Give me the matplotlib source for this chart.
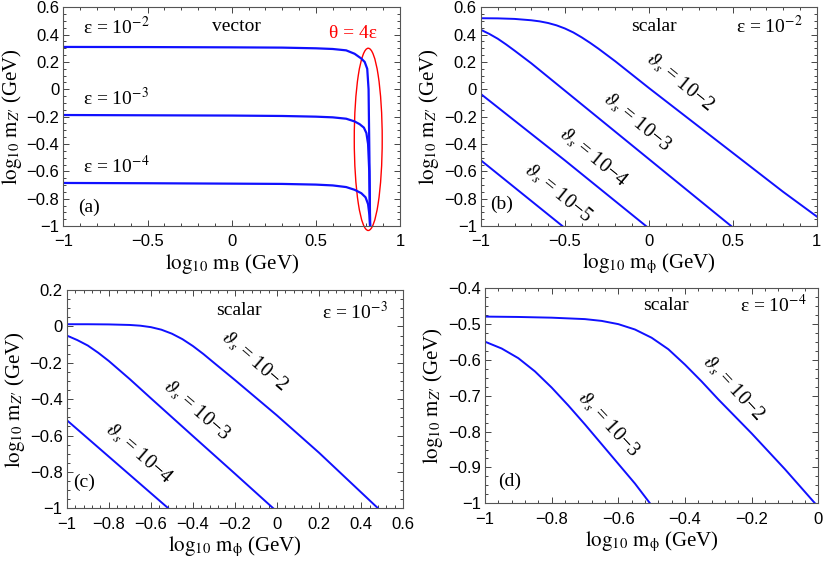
import numpy as np
import matplotlib
matplotlib.use("Agg")
import matplotlib.pyplot as plt
from matplotlib.patches import Ellipse
from matplotlib.ticker import MultipleLocator, FuncFormatter

plt.rcParams["font.family"] = ["Liberation Serif", "DejaVu Serif"]
plt.rcParams["mathtext.fontset"] = "stix"

BLUE = "#1010ff"

# (a) vector, theta = 4 eps
a_x1 = [-1, -0.5, 0, 0.3, 0.5, 0.6, 0.68, 0.73, 0.77, 0.79, 0.805, 0.813, 0.818, 0.822]
a_y1 = [0.31, 0.309, 0.307, 0.305, 0.3, 0.295, 0.285, 0.26, 0.225, 0.2, 0.15, 0.0, -0.5, -1.0]
a_x2 = [-1, -0.5, 0, 0.3, 0.5, 0.6, 0.68, 0.73, 0.76, 0.785, 0.80, 0.81, 0.817, 0.822]
a_y2 = [-0.188, -0.19, -0.192, -0.195, -0.2, -0.205, -0.215, -0.235, -0.255, -0.28, -0.32, -0.4, -0.6, -1.0]
a_x3 = [-1, -0.5, 0, 0.3, 0.5, 0.6, 0.68, 0.73, 0.77, 0.795, 0.81, 0.818, 0.822]
a_y3 = [-0.685, -0.687, -0.69, -0.692, -0.697, -0.703, -0.715, -0.735, -0.76, -0.79, -0.84, -0.92, -1.0]
a_labels = ["ε = 10$^{-2}$", "ε = 10$^{-3}$", "ε = 10$^{-4}$"]

# (b) scalar, eps = 1e-2
b_x1 = [-1, -0.9, -0.8, -0.7, -0.65, -0.6, -0.55, -0.5, -0.45, -0.4, -0.35, -0.3,
        -0.2, 0, 0.2, 0.4, 0.6, 0.7, 0.8, 0.9, 1.0]
b_y1 = [0.52, 0.519, 0.515, 0.505, 0.497, 0.485, 0.468, 0.445, 0.416, 0.38, 0.34, 0.297,
        0.205, 0.01, -0.18, -0.37, -0.56, -0.655, -0.75, -0.84, -0.93]
b_x2 = [-1, -0.95, -0.9, -0.85, -0.8, -0.7, -0.6, -0.5, -0.4, -0.2, 0, 0.2, 0.49]
b_y2 = [0.435, 0.405, 0.37, 0.328, 0.283, 0.19, 0.09, -0.01, -0.11, -0.31, -0.51, -0.71, -1.0]
b_x3 = [-1, -0.5, -0.017]
b_y3 = [-0.035, -0.52, -1.0]
b_x4 = [-1, -0.515]
b_y4 = [-0.52, -1.0]

# (c) scalar, eps = 1e-3
c_x1 = [-1, -0.9, -0.8, -0.7, -0.65, -0.6, -0.55, -0.5, -0.45, -0.4, -0.35, -0.3,
        -0.2, 0, 0.2, 0.48]
c_y1 = [0.012, 0.012, 0.011, 0.008, 0.004, -0.004, -0.018, -0.04, -0.07, -0.108, -0.152, -0.2,
        -0.295, -0.49, -0.695, -1.0]
c_x2 = [-1, -0.95, -0.9, -0.85, -0.8, -0.75, -0.7, -0.6, -0.4, -0.2, -0.018]
c_y2 = [-0.05, -0.075, -0.105, -0.145, -0.19, -0.24, -0.29, -0.395, -0.603, -0.81, -1.0]
c_x3 = [-1, -0.517]
c_y3 = [-0.515, -1.0]

# (d) scalar, eps = 1e-4
d_x1 = [-1, -0.9, -0.8, -0.7, -0.65, -0.6, -0.55, -0.5, -0.45, -0.4, -0.35, -0.3,
        -0.2, -0.1, -0.01]
d_y1 = [-0.479, -0.48, -0.482, -0.486, -0.491, -0.5, -0.515, -0.538, -0.57, -0.613, -0.66, -0.71,
        -0.805, -0.905, -1.0]
d_x2 = [-1, -0.95, -0.9, -0.85, -0.8, -0.75, -0.7, -0.65, -0.6, -0.55, -0.505]
d_y2 = [-0.549, -0.568, -0.595, -0.632, -0.677, -0.727, -0.78, -0.835, -0.89, -0.945, -1.0]

th_labels = ["$\\vartheta_s$ = 10\u22122", "$\\vartheta_s$ = 10\u22123",
             "$\\vartheta_s$ = 10\u22124", "$\\vartheta_s$ = 10\u22125"]


def fmt(v, pos):
    s = "%g" % round(v, 3)
    return s.replace("-", "\u2212")


def style(ax, xlim, ylim, xmaj, xmin, ymaj, ymin, xlabel):
    ax.set_xlim(*xlim)
    ax.set_ylim(*ylim)
    ax.xaxis.set_major_locator(MultipleLocator(xmaj))
    ax.xaxis.set_minor_locator(MultipleLocator(xmin))
    ax.yaxis.set_major_locator(MultipleLocator(ymaj))
    ax.yaxis.set_minor_locator(MultipleLocator(ymin))
    ax.xaxis.set_major_formatter(FuncFormatter(fmt))
    ax.yaxis.set_major_formatter(FuncFormatter(fmt))
    ax.tick_params(which="both", direction="in", top=True, right=True,
                   color="#444444", width=0.7)
    ax.tick_params(which="major", length=4.5)
    ax.tick_params(which="minor", length=2.5)
    ax.tick_params(axis="x", pad=6)
    ax.tick_params(axis="y", pad=3)
    for lab in ax.get_xticklabels() + ax.get_yticklabels():
        lab.set_fontfamily("Liberation Sans")
        lab.set_fontsize(12)
    for sp in ax.spines.values():
        sp.set_color("#555555")
        sp.set_linewidth(0.8)
    ax.set_xlabel(xlabel, fontsize=15, labelpad=2)
    ax.set_ylabel("$\\log_{10}\\,\\mathrm{m}_{Z\\prime}$ (GeV)", fontsize=15, labelpad=2)


def lab(ax, x, y, s, rot=-45):
    ax.text(x, y, s, fontsize=14.5, ha="center", va="center", rotation=rot,
            rotation_mode="anchor", transform_rotates_text=True)


fig = plt.figure(figsize=(8.3, 5.61), dpi=100)
axa = fig.add_axes([0.0763, 0.5971, 0.4057, 0.3899])
axb = fig.add_axes([0.5795, 0.5971, 0.4045, 0.3899])
axc = fig.add_axes([0.0804, 0.0939, 0.4055, 0.3891])
axd = fig.add_axes([0.5843, 0.1029, 0.4016, 0.3832])

xl_phi = "$\\log_{10}\\,\\mathrm{m}_{\\mathrm{ϕ}}$ (GeV)"

# (a)
for xs, ys in [(a_x1, a_y1), (a_x2, a_y2), (a_x3, a_y3)]:
    axa.plot(xs, ys, color=BLUE, lw=1.6)
style(axa, (-1, 1), (-1, 0.6), 0.5, 0.1, 0.2, 0.05,
      "$\\log_{10}\\,\\mathrm{m}_{\\mathrm{B}}$ (GeV)")
for y, s in zip([0.456, -0.064, -0.563], a_labels):
    axa.text(-0.687, y, s, fontsize=14, ha="center", va="center")
axa.text(0.03, 0.456, "vector", fontsize=14, ha="center", va="center")
axa.text(-0.85, -0.866, "(a)", fontsize=14, ha="center", va="center")
axa.text(0.72, 0.41, "θ = 4ε", color="red", fontsize=14,
         ha="center", va="center")
axa.add_patch(Ellipse((0.811, -0.366), 0.166, 1.333, fill=False,
                      edgecolor="red", lw=1.0, clip_on=False))

# (b)
for xs, ys in [(b_x1, b_y1), (b_x2, b_y2), (b_x3, b_y3), (b_x4, b_y4)]:
    axb.plot(xs, ys, color=BLUE, lw=1.4)
style(axb, (-1, 1), (-1, 0.6), 0.5, 0.1, 0.2, 0.05, xl_phi)
axb.text(0.03, 0.457, "scalar", fontsize=14, ha="center", va="center")
axb.text(0.72, 0.46, "ε = 10$^{-2}$", fontsize=14, ha="center", va="center")
axb.text(-0.877, -0.84, "(b)", fontsize=14, ha="center", va="center")
for (x, y), s in zip([(0.186, 0.053), (-0.072, -0.24), (-0.33, -0.498), (-0.54, -0.755)],
                     th_labels):
    lab(axb, x, y, s)

# (c)
for xs, ys in [(c_x1, c_y1), (c_x2, c_y2), (c_x3, c_y3)]:
    axc.plot(xs, ys, color=BLUE, lw=1.4)
style(axc, (-1, 0.6), (-1, 0.2), 0.2, 0.04, 0.2, 0.05, xl_phi)
axc.text(-0.18, 0.09, "scalar", fontsize=14, ha="center", va="center")
axc.text(0.37, 0.081, "ε = 10$^{-3}$", fontsize=14, ha="center", va="center")
axc.text(-0.917, -0.855, "(c)", fontsize=14, ha="center", va="center")
for (x, y), s in zip([(-0.11, -0.19), (-0.382, -0.46), (-0.66, -0.698)], th_labels):
    lab(axc, x, y, s)

# (d)
for xs, ys in [(d_x1, d_y1), (d_x2, d_y2)]:
    axd.plot(xs, ys, color=BLUE, lw=1.4)
style(axd, (-1, 0), (-1, -0.4), 0.2, 0.04, 0.1, 0.025, xl_phi)
axd.text(-0.458, -0.447, "scalar", fontsize=14, ha="center", va="center")
axd.text(-0.135, -0.447, "ε = 10$^{-4}$", fontsize=14, ha="center", va="center")
axd.text(-0.927, -0.94, "(d)", fontsize=14, ha="center", va="center")
for (x, y), s in zip([(-0.255, -0.679), (-0.63, -0.78)], th_labels):
    lab(axd, x, y, s)

fig.savefig("out.png", dpi=100)
